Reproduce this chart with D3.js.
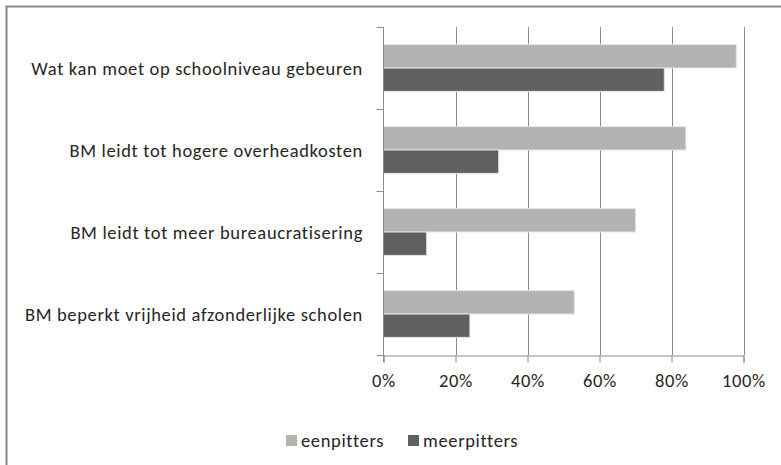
<!DOCTYPE html>
<html>
<head>
<meta charset="utf-8">
<script src="https://cdn.jsdelivr.net/npm/d3@7"></script>
<style>
html,body{margin:0;padding:0;background:#fff;}
svg{display:block;}
text{font-family:Carlito,Lato,"Open Sans",sans-serif;fill:#262626;letter-spacing:0.65px;}
</style>
</head>
<body>
<svg id="chart" width="781" height="465"></svg>
<script>
const categories = [
  "Wat kan moet op schoolniveau gebeuren",
  "BM leidt tot hogere overheadkosten",
  "BM leidt tot meer bureaucratisering",
  "BM beperkt vrijheid afzonderlijke scholen"
];
const seriesNames = ["eenpitters", "meerpitters"];
const eenpitters = [98, 84, 70, 53];
const meerpitters = [78, 32, 12, 24];
const xTicks = [0, 20, 40, 60, 80, 100];
const seriesColors = ["#b3b3b3", "#606060"];

(function () {
const svg = d3.select("#chart");
const pLeft = 383.5, pRight = 743.5, pTop = 27, pBottom = 355;
const fs = "18.5px";

const x = d3.scaleLinear().domain([0, 100]).range([pLeft, pRight]);
const y = d3.scaleBand().domain(categories).range([pTop, pBottom]).paddingInner(0.43).paddingOuter(0.215);
const ySub = d3.scaleBand().domain(seriesNames).range([0, y.bandwidth()]);

// outer border (clipped at right and bottom)
svg.append("path").attr("d", "M6.5,465 V6.5 H781").attr("fill", "none").attr("stroke", "#878787").attr("stroke-width", 2);

// gridlines
svg.append("g").selectAll("line").data(xTicks.slice(1)).join("line")
  .attr("x1", d => Math.round(x(d)) + 0.5).attr("x2", d => Math.round(x(d)) + 0.5)
  .attr("y1", pTop).attr("y2", pBottom)
  .attr("stroke", "#8c8c8c").attr("stroke-width", 1);

// bars
const data = [eenpitters, meerpitters];
const g = svg.append("g");
seriesNames.forEach((s, si) => {
  g.selectAll(null).data(categories).join("rect")
    .attr("x", x(0))
    .attr("y", c => y(c) + ySub(s))
    .attr("width", (c, i) => x(data[si][i]) - x(0))
    .attr("height", ySub.bandwidth())
    .attr("fill", seriesColors[si])
    .attr("stroke", "#e3e3e3").attr("stroke-width", 1);
});

// y axis line and ticks at category boundaries
svg.append("line").attr("x1", pLeft).attr("x2", pLeft).attr("y1", pTop).attr("y2", pBottom + 7)
  .attr("stroke", "#8c8c8c");
const boundaries = [pTop].concat(categories.map(c => y(c) - y.step() * y.paddingInner() / 2 + y.step()));
svg.append("g").selectAll("line").data(boundaries).join("line")
  .attr("x1", pLeft - 7).attr("x2", pLeft)
  .attr("y1", d => Math.round(d) + 0.5).attr("y2", d => Math.round(d) + 0.5)
  .attr("stroke", "#8c8c8c");

// x axis
const xAxis = d3.axisBottom(x).tickValues(xTicks).tickSize(7).tickFormat(d => d + "%");
const xg = svg.append("g").attr("transform", `translate(0,${pBottom + 0.5})`).call(xAxis);
xg.select(".domain").attr("stroke", "#8c8c8c");
xg.selectAll(".tick line").attr("stroke", "#8c8c8c");
xg.selectAll(".tick text").attr("y", 0).attr("dy", 0).attr("transform", "translate(0,31)")
  .style("font-size", fs).style("font-family", "Carlito,Lato,sans-serif").attr("fill", "#262626");

// category labels
svg.append("g").selectAll("text").data(categories).join("text")
  .attr("x", 363).attr("y", c => y(c) + y.bandwidth() / 2 + 6.5)
  .attr("text-anchor", "end").style("font-size", fs).text(d => d);

// legend
const legendX = [286, 408];
const lg = svg.append("g");
seriesNames.forEach((s, i) => {
  lg.append("rect").attr("x", legendX[i]).attr("y", 435).attr("width", 11).attr("height", 11).attr("fill", seriesColors[i]);
  lg.append("text").attr("x", legendX[i] + 15).attr("y", 447).style("font-size", fs).text(s);
});
})();
</script>
</body>
</html>
